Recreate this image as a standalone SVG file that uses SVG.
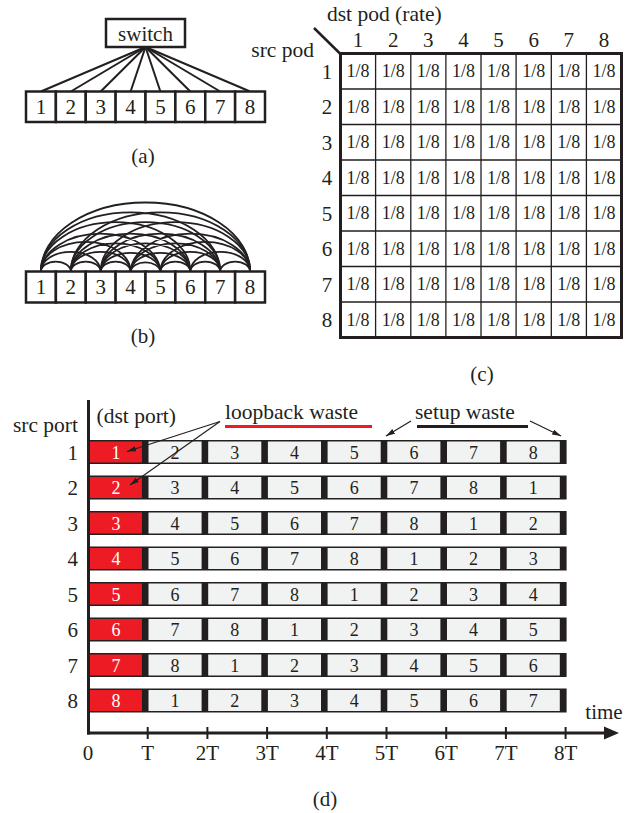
<svg xmlns="http://www.w3.org/2000/svg" width="634" height="813" viewBox="0 0 634 813">
<style>
text{font-family:"Liberation Serif","Times New Roman",serif;fill:#231f20}
.l{font-size:21.5px}
.n{font-size:21px;text-anchor:middle}
.m{font-size:18px;text-anchor:middle}
.c{font-size:18px;text-anchor:middle}
.w{fill:#fff}
.box{fill:#fff;stroke:#231f20;stroke-width:2.5}
.ln{stroke:#231f20;stroke-width:2;fill:none}
.arc{stroke:#231f20;stroke-width:1.8;fill:none}
.bar{fill:#231f20}
.cell{fill:#f1f2f2}
.red{fill:#ed1c24}
.thin{stroke:#231f20;stroke-width:1.3;fill:none}
.ar{stroke:#231f20;stroke-width:1.2;fill:none;marker-end:url(#ah)}
</style>
<defs>
<marker id="ah" viewBox="0 0 10 6" refX="10" refY="3" markerWidth="9" markerHeight="5.5" markerUnits="userSpaceOnUse" orient="auto"><path d="M0,0 L10,3 L0,6 z" fill="#231f20"/></marker>
</defs>

<!-- (a) -->
<g id="a-connectors">
<line class="ln" x1="145.5" y1="47" x2="40.9" y2="91.5"/>
<line class="ln" x1="145.5" y1="47" x2="70.8" y2="91.5"/>
<line class="ln" x1="145.5" y1="47" x2="100.7" y2="91.5"/>
<line class="ln" x1="145.5" y1="47" x2="130.6" y2="91.5"/>
<line class="ln" x1="145.5" y1="47" x2="160.4" y2="91.5"/>
<line class="ln" x1="145.5" y1="47" x2="190.3" y2="91.5"/>
<line class="ln" x1="145.5" y1="47" x2="220.2" y2="91.5"/>
<line class="ln" x1="145.5" y1="47" x2="250.1" y2="91.5"/>
</g>
<g id="a-switch"><rect class="box" x="106" y="19" width="79" height="28"/><text class="n" x="145.5" y="40.5">switch</text></g>
<g id="a-p1"><rect class="box" x="26" y="91.5" width="29.875" height="30.5"/><text class="n" x="40.9" y="113.5">1</text></g>
<g id="a-p2"><rect class="box" x="55.875" y="91.5" width="29.875" height="30.5"/><text class="n" x="70.8" y="113.5">2</text></g>
<g id="a-p3"><rect class="box" x="85.75" y="91.5" width="29.875" height="30.5"/><text class="n" x="100.7" y="113.5">3</text></g>
<g id="a-p4"><rect class="box" x="115.625" y="91.5" width="29.875" height="30.5"/><text class="n" x="130.6" y="113.5">4</text></g>
<g id="a-p5"><rect class="box" x="145.5" y="91.5" width="29.875" height="30.5"/><text class="n" x="160.4" y="113.5">5</text></g>
<g id="a-p6"><rect class="box" x="175.375" y="91.5" width="29.875" height="30.5"/><text class="n" x="190.3" y="113.5">6</text></g>
<g id="a-p7"><rect class="box" x="205.25" y="91.5" width="29.875" height="30.5"/><text class="n" x="220.2" y="113.5">7</text></g>
<g id="a-p8"><rect class="box" x="235.125" y="91.5" width="29.875" height="30.5"/><text class="n" x="250.1" y="113.5">8</text></g>
<text class="n" x="143" y="163">(a)</text>

<!-- (b) -->
<g id="b-connectors">
<path class="arc" d="M40.9 271.5A14.95 9.9 0 0 1 70.8 271.5M70.8 271.5A14.95 9.9 0 0 1 100.7 271.5M100.7 271.5A14.95 9.9 0 0 1 130.6 271.5M130.6 271.5A14.95 9.9 0 0 1 160.4 271.5M160.4 271.5A14.95 9.9 0 0 1 190.3 271.5M190.3 271.5A14.95 9.9 0 0 1 220.2 271.5M220.2 271.5A14.95 9.9 0 0 1 250.1 271.5"/>
<path class="arc" d="M40.9 271.5A29.9 19.7 0 0 1 100.7 271.5M70.8 271.5A29.9 19.7 0 0 1 130.6 271.5M100.7 271.5A29.9 19.7 0 0 1 160.4 271.5M130.6 271.5A29.9 19.7 0 0 1 190.3 271.5M160.4 271.5A29.9 19.7 0 0 1 220.2 271.5M190.3 271.5A29.9 19.7 0 0 1 250.1 271.5"/>
<path class="arc" d="M40.9 271.5A44.85 29.6 0 0 1 130.6 271.5M70.8 271.5A44.85 29.6 0 0 1 160.4 271.5M100.7 271.5A44.85 29.6 0 0 1 190.3 271.5M130.6 271.5A44.85 29.6 0 0 1 220.2 271.5M160.4 271.5A44.85 29.6 0 0 1 250.1 271.5"/>
<path class="arc" d="M40.9 271.5A59.8 39.4 0 0 1 160.4 271.5M70.8 271.5A59.8 39.4 0 0 1 190.3 271.5M100.7 271.5A59.8 39.4 0 0 1 220.2 271.5M130.6 271.5A59.8 39.4 0 0 1 250.1 271.5"/>
<path class="arc" d="M40.9 271.5A74.7 49.3 0 0 1 190.3 271.5M70.8 271.5A74.7 49.3 0 0 1 220.2 271.5M100.7 271.5A74.7 49.3 0 0 1 250.1 271.5"/>
<path class="arc" d="M40.9 271.5A89.65 59.2 0 0 1 220.2 271.5M70.8 271.5A89.65 59.2 0 0 1 250.1 271.5"/>
<path class="arc" d="M40.9 271.5A104.6 69 0 0 1 250.1 271.5"/>
</g>
<g id="b-p1"><rect class="box" x="26" y="271.5" width="29.875" height="31"/><text class="n" x="40.9" y="294">1</text></g>
<g id="b-p2"><rect class="box" x="55.875" y="271.5" width="29.875" height="31"/><text class="n" x="70.8" y="294">2</text></g>
<g id="b-p3"><rect class="box" x="85.75" y="271.5" width="29.875" height="31"/><text class="n" x="100.7" y="294">3</text></g>
<g id="b-p4"><rect class="box" x="115.625" y="271.5" width="29.875" height="31"/><text class="n" x="130.6" y="294">4</text></g>
<g id="b-p5"><rect class="box" x="145.5" y="271.5" width="29.875" height="31"/><text class="n" x="160.4" y="294">5</text></g>
<g id="b-p6"><rect class="box" x="175.375" y="271.5" width="29.875" height="31"/><text class="n" x="190.3" y="294">6</text></g>
<g id="b-p7"><rect class="box" x="205.25" y="271.5" width="29.875" height="31"/><text class="n" x="220.2" y="294">7</text></g>
<g id="b-p8"><rect class="box" x="235.125" y="271.5" width="29.875" height="31"/><text class="n" x="250.1" y="294">8</text></g>
<text class="n" x="143" y="343">(b)</text>

<!-- (c) -->
<g id="c-matrix">
<text class="l" x="327" y="21">dst pod (rate)</text>
<text class="l" x="314" y="57" text-anchor="end">src pod</text>
<line x1="314" y1="28" x2="341" y2="54.5" stroke="#231f20" stroke-width="2.5"/>
<g class="cols">
<text class="n" x="358.1" y="47">1</text><text class="n" x="393.2" y="47">2</text><text class="n" x="428.3" y="47">3</text><text class="n" x="463.4" y="47">4</text><text class="n" x="498.6" y="47">5</text><text class="n" x="533.7" y="47">6</text><text class="n" x="568.8" y="47">7</text><text class="n" x="603.9" y="47">8</text>
</g>
<g class="rows">
<text class="n" x="327" y="78.5">1</text><text class="n" x="327" y="114">2</text><text class="n" x="327" y="149.5">3</text><text class="n" x="327" y="185">4</text><text class="n" x="327" y="220.5">5</text><text class="n" x="327" y="256">6</text><text class="n" x="327" y="291.5">7</text><text class="n" x="327" y="327">8</text>
</g>
<rect x="340.5" y="53.5" width="281" height="284" fill="#fff"/>
<path class="thin" d="M375.6 53.5V337.5M410.8 53.5V337.5M445.9 53.5V337.5M481 53.5V337.5M516.1 53.5V337.5M551.3 53.5V337.5M586.4 53.5V337.5M340.5 89H621.5M340.5 124.5H621.5M340.5 160H621.5M340.5 195.5H621.5M340.5 231H621.5M340.5 266.5H621.5M340.5 302H621.5"/>
<rect x="340.5" y="53.5" width="281" height="284" fill="none" stroke="#231f20" stroke-width="3"/>
<g id="mrow">
<text class="m" x="358.1" y="77.3">1/8</text><text class="m" x="393.2" y="77.3">1/8</text><text class="m" x="428.3" y="77.3">1/8</text><text class="m" x="463.4" y="77.3">1/8</text><text class="m" x="498.6" y="77.3">1/8</text><text class="m" x="533.7" y="77.3">1/8</text><text class="m" x="568.8" y="77.3">1/8</text><text class="m" x="603.9" y="77.3">1/8</text>
</g>
<use href="#mrow" y="35.5"/>
<use href="#mrow" y="71"/>
<use href="#mrow" y="106.5"/>
<use href="#mrow" y="142"/>
<use href="#mrow" y="177.5"/>
<use href="#mrow" y="213"/>
<use href="#mrow" y="248.5"/>
</g>
<text class="n" x="482" y="381">(c)</text>

<!-- (d) -->
<g id="d-axes">
<line x1="88.5" y1="400" x2="88.5" y2="734.5" stroke="#231f20" stroke-width="3"/>
<line x1="87" y1="733" x2="608" y2="733" stroke="#231f20" stroke-width="3"/>
<path d="M604 726.5L619 733L604 739.5z" fill="#231f20"/>
<path d="M147.7 727V739M207.4 727V739M267.1 727V739M326.8 727V739M386.5 727V739M446.2 727V739M505.9 727V739M565.6 727V739" stroke="#231f20" stroke-width="2"/>
<text class="n" x="88" y="760">0</text><text class="n" x="147.7" y="760">T</text><text class="n" x="207.4" y="760">2T</text><text class="n" x="267.1" y="760">3T</text><text class="n" x="326.8" y="760">4T</text><text class="n" x="386.5" y="760">5T</text><text class="n" x="446.2" y="760">6T</text><text class="n" x="505.9" y="760">7T</text><text class="n" x="565.6" y="760">8T</text>
<text class="n" x="604" y="719">time</text>
<text class="l" x="78" y="432" text-anchor="end">src port</text>
<text class="l" x="96.5" y="422.5">(dst port)</text>
</g>

<g id="d-row1" transform="translate(0,440)">
<rect class="bar" x="88" y="0" width="478.6" height="24"/>
<rect class="red" x="90" y="1.5" width="51.9" height="21"/><rect class="cell" x="148.5" y="1.5" width="53.1" height="21"/><rect class="cell" x="208.2" y="1.5" width="53.1" height="21"/><rect class="cell" x="267.9" y="1.5" width="53.1" height="21"/><rect class="cell" x="327.6" y="1.5" width="53.1" height="21"/><rect class="cell" x="387.3" y="1.5" width="53.1" height="21"/><rect class="cell" x="447" y="1.5" width="53.1" height="21"/><rect class="cell" x="506.7" y="1.5" width="53.1" height="21"/>
<text class="n" x="78" y="19.5" text-anchor="end" style="text-anchor:end">1</text>
<text class="c w" x="116" y="18.5">1</text><text class="c" x="175" y="18.5">2</text><text class="c" x="234.8" y="18.5">3</text><text class="c" x="294.5" y="18.5">4</text><text class="c" x="354.2" y="18.5">5</text><text class="c" x="413.9" y="18.5">6</text><text class="c" x="473.6" y="18.5">7</text><text class="c" x="533.3" y="18.5">8</text>
</g>
<g id="d-row2" transform="translate(0,475.5)">
<rect class="bar" x="88" y="0" width="478.6" height="24"/>
<rect class="red" x="90" y="1.5" width="51.9" height="21"/><rect class="cell" x="148.5" y="1.5" width="53.1" height="21"/><rect class="cell" x="208.2" y="1.5" width="53.1" height="21"/><rect class="cell" x="267.9" y="1.5" width="53.1" height="21"/><rect class="cell" x="327.6" y="1.5" width="53.1" height="21"/><rect class="cell" x="387.3" y="1.5" width="53.1" height="21"/><rect class="cell" x="447" y="1.5" width="53.1" height="21"/><rect class="cell" x="506.7" y="1.5" width="53.1" height="21"/>
<text class="n" x="78" y="19.5" style="text-anchor:end">2</text>
<text class="c w" x="116" y="18.5">2</text><text class="c" x="175" y="18.5">3</text><text class="c" x="234.8" y="18.5">4</text><text class="c" x="294.5" y="18.5">5</text><text class="c" x="354.2" y="18.5">6</text><text class="c" x="413.9" y="18.5">7</text><text class="c" x="473.6" y="18.5">8</text><text class="c" x="533.3" y="18.5">1</text>
</g>
<g id="d-row3" transform="translate(0,511)">
<rect class="bar" x="88" y="0" width="478.6" height="24"/>
<rect class="red" x="90" y="1.5" width="51.9" height="21"/><rect class="cell" x="148.5" y="1.5" width="53.1" height="21"/><rect class="cell" x="208.2" y="1.5" width="53.1" height="21"/><rect class="cell" x="267.9" y="1.5" width="53.1" height="21"/><rect class="cell" x="327.6" y="1.5" width="53.1" height="21"/><rect class="cell" x="387.3" y="1.5" width="53.1" height="21"/><rect class="cell" x="447" y="1.5" width="53.1" height="21"/><rect class="cell" x="506.7" y="1.5" width="53.1" height="21"/>
<text class="n" x="78" y="19.5" style="text-anchor:end">3</text>
<text class="c w" x="116" y="18.5">3</text><text class="c" x="175" y="18.5">4</text><text class="c" x="234.8" y="18.5">5</text><text class="c" x="294.5" y="18.5">6</text><text class="c" x="354.2" y="18.5">7</text><text class="c" x="413.9" y="18.5">8</text><text class="c" x="473.6" y="18.5">1</text><text class="c" x="533.3" y="18.5">2</text>
</g>
<g id="d-row4" transform="translate(0,546.5)">
<rect class="bar" x="88" y="0" width="478.6" height="24"/>
<rect class="red" x="90" y="1.5" width="51.9" height="21"/><rect class="cell" x="148.5" y="1.5" width="53.1" height="21"/><rect class="cell" x="208.2" y="1.5" width="53.1" height="21"/><rect class="cell" x="267.9" y="1.5" width="53.1" height="21"/><rect class="cell" x="327.6" y="1.5" width="53.1" height="21"/><rect class="cell" x="387.3" y="1.5" width="53.1" height="21"/><rect class="cell" x="447" y="1.5" width="53.1" height="21"/><rect class="cell" x="506.7" y="1.5" width="53.1" height="21"/>
<text class="n" x="78" y="19.5" style="text-anchor:end">4</text>
<text class="c w" x="116" y="18.5">4</text><text class="c" x="175" y="18.5">5</text><text class="c" x="234.8" y="18.5">6</text><text class="c" x="294.5" y="18.5">7</text><text class="c" x="354.2" y="18.5">8</text><text class="c" x="413.9" y="18.5">1</text><text class="c" x="473.6" y="18.5">2</text><text class="c" x="533.3" y="18.5">3</text>
</g>
<g id="d-row5" transform="translate(0,582)">
<rect class="bar" x="88" y="0" width="478.6" height="24"/>
<rect class="red" x="90" y="1.5" width="51.9" height="21"/><rect class="cell" x="148.5" y="1.5" width="53.1" height="21"/><rect class="cell" x="208.2" y="1.5" width="53.1" height="21"/><rect class="cell" x="267.9" y="1.5" width="53.1" height="21"/><rect class="cell" x="327.6" y="1.5" width="53.1" height="21"/><rect class="cell" x="387.3" y="1.5" width="53.1" height="21"/><rect class="cell" x="447" y="1.5" width="53.1" height="21"/><rect class="cell" x="506.7" y="1.5" width="53.1" height="21"/>
<text class="n" x="78" y="19.5" style="text-anchor:end">5</text>
<text class="c w" x="116" y="18.5">5</text><text class="c" x="175" y="18.5">6</text><text class="c" x="234.8" y="18.5">7</text><text class="c" x="294.5" y="18.5">8</text><text class="c" x="354.2" y="18.5">1</text><text class="c" x="413.9" y="18.5">2</text><text class="c" x="473.6" y="18.5">3</text><text class="c" x="533.3" y="18.5">4</text>
</g>
<g id="d-row6" transform="translate(0,617.5)">
<rect class="bar" x="88" y="0" width="478.6" height="24"/>
<rect class="red" x="90" y="1.5" width="51.9" height="21"/><rect class="cell" x="148.5" y="1.5" width="53.1" height="21"/><rect class="cell" x="208.2" y="1.5" width="53.1" height="21"/><rect class="cell" x="267.9" y="1.5" width="53.1" height="21"/><rect class="cell" x="327.6" y="1.5" width="53.1" height="21"/><rect class="cell" x="387.3" y="1.5" width="53.1" height="21"/><rect class="cell" x="447" y="1.5" width="53.1" height="21"/><rect class="cell" x="506.7" y="1.5" width="53.1" height="21"/>
<text class="n" x="78" y="19.5" style="text-anchor:end">6</text>
<text class="c w" x="116" y="18.5">6</text><text class="c" x="175" y="18.5">7</text><text class="c" x="234.8" y="18.5">8</text><text class="c" x="294.5" y="18.5">1</text><text class="c" x="354.2" y="18.5">2</text><text class="c" x="413.9" y="18.5">3</text><text class="c" x="473.6" y="18.5">4</text><text class="c" x="533.3" y="18.5">5</text>
</g>
<g id="d-row7" transform="translate(0,653)">
<rect class="bar" x="88" y="0" width="478.6" height="24"/>
<rect class="red" x="90" y="1.5" width="51.9" height="21"/><rect class="cell" x="148.5" y="1.5" width="53.1" height="21"/><rect class="cell" x="208.2" y="1.5" width="53.1" height="21"/><rect class="cell" x="267.9" y="1.5" width="53.1" height="21"/><rect class="cell" x="327.6" y="1.5" width="53.1" height="21"/><rect class="cell" x="387.3" y="1.5" width="53.1" height="21"/><rect class="cell" x="447" y="1.5" width="53.1" height="21"/><rect class="cell" x="506.7" y="1.5" width="53.1" height="21"/>
<text class="n" x="78" y="19.5" style="text-anchor:end">7</text>
<text class="c w" x="116" y="18.5">7</text><text class="c" x="175" y="18.5">8</text><text class="c" x="234.8" y="18.5">1</text><text class="c" x="294.5" y="18.5">2</text><text class="c" x="354.2" y="18.5">3</text><text class="c" x="413.9" y="18.5">4</text><text class="c" x="473.6" y="18.5">5</text><text class="c" x="533.3" y="18.5">6</text>
</g>
<g id="d-row8" transform="translate(0,688.5)">
<rect class="bar" x="88" y="0" width="478.6" height="24"/>
<rect class="red" x="90" y="1.5" width="51.9" height="21"/><rect class="cell" x="148.5" y="1.5" width="53.1" height="21"/><rect class="cell" x="208.2" y="1.5" width="53.1" height="21"/><rect class="cell" x="267.9" y="1.5" width="53.1" height="21"/><rect class="cell" x="327.6" y="1.5" width="53.1" height="21"/><rect class="cell" x="387.3" y="1.5" width="53.1" height="21"/><rect class="cell" x="447" y="1.5" width="53.1" height="21"/><rect class="cell" x="506.7" y="1.5" width="53.1" height="21"/>
<text class="n" x="78" y="19.5" style="text-anchor:end">8</text>
<text class="c w" x="116" y="18.5">8</text><text class="c" x="175" y="18.5">1</text><text class="c" x="234.8" y="18.5">2</text><text class="c" x="294.5" y="18.5">3</text><text class="c" x="354.2" y="18.5">4</text><text class="c" x="413.9" y="18.5">5</text><text class="c" x="473.6" y="18.5">6</text><text class="c" x="533.3" y="18.5">7</text>
</g>

<g id="d-annotations">
<text class="l" x="225" y="419">loopback waste</text>
<line x1="225" y1="426.5" x2="372" y2="426.5" stroke="#ed1c24" stroke-width="3"/>
<text class="l" x="415" y="419">setup waste</text>
<line x1="417" y1="426.5" x2="528" y2="426.5" stroke="#231f20" stroke-width="3"/>
</g>
<g id="d-connectors">
<line class="ar" x1="220" y1="421.5" x2="127" y2="451.5"/>
<line class="ar" x1="220" y1="421.5" x2="130" y2="485"/>
<line class="ar" x1="411" y1="421" x2="386" y2="436"/>
<line class="ar" x1="530" y1="421" x2="561" y2="436"/>
</g>
<text class="n" x="325" y="806">(d)</text>
</svg>
